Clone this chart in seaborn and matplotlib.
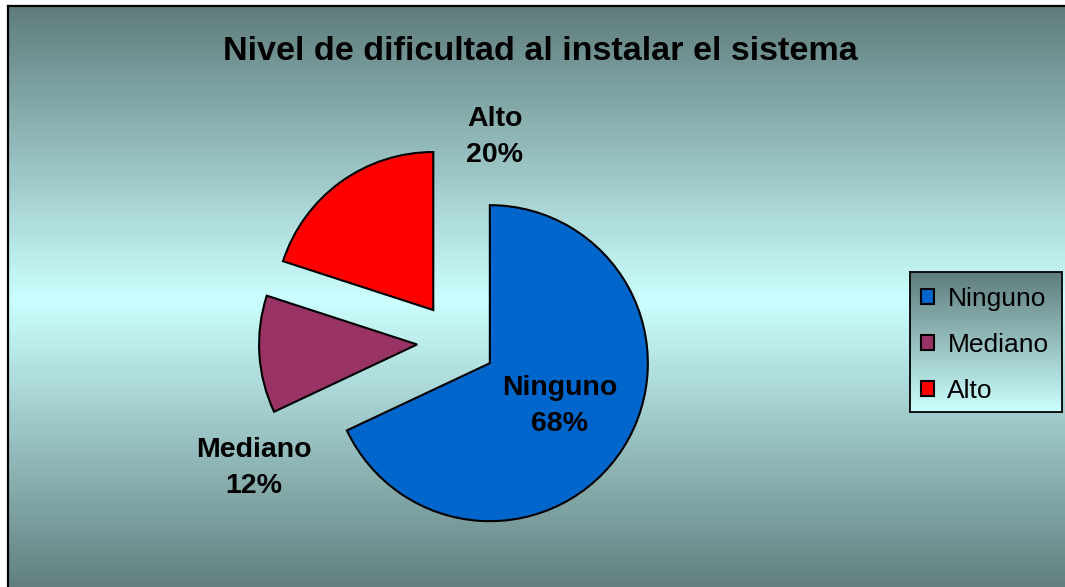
import numpy as np
import matplotlib
matplotlib.use("Agg")
import matplotlib.pyplot as plt
import seaborn as sns

# Chart data
categories = ["Ninguno", "Mediano", "Alto"]
percentages = [68, 12, 20]
slice_colors = ["#0066CC", "#993366", "#FF0000"]
chart_title = "Nivel de dificultad al instalar el sistema"

sns.set_theme(style="white")
plt.rcParams["font.family"] = ["Liberation Sans", "DejaVu Sans"]
plt.rcParams["text.color"] = "black"
palette = sns.color_palette(slice_colors)

W, H = 1065, 587
fig = plt.figure(figsize=(W / 100, H / 100), dpi=100, facecolor="white")


def px_box(left, top, right, bottom):
    """Axes rectangle from pixel edges measured from the top-left corner."""
    return [left / W, 1 - bottom / H, (right - left) / W, (bottom - top) / H]


dark = np.array([95, 124, 124]) / 255
light = np.array([204, 255, 255]) / 255

# Background panel: dark at top and bottom, pale cyan in the middle
bg_top, bg_bottom = 6, H + 20
bg = fig.add_axes(px_box(8, bg_top, W + 20, bg_bottom), zorder=0)
rows = np.linspace(bg_top, bg_bottom, 600)
t = np.clip(np.abs(rows - 300) / 295, 0, 1)[:, None, None]
bg.imshow(light + (dark - light) * t, aspect="auto", extent=[0, 1, 0, 1],
          interpolation="bilinear")
bg.set_xticks([])
bg.set_yticks([])
for side in ("right", "bottom"):
    bg.spines[side].set_visible(False)
for side in ("top", "left"):
    bg.spines[side].set_color("black")
    bg.spines[side].set_linewidth(1.6)

# Pie
cx, cy, r = 456.5, 342, 158
ax = fig.add_axes(px_box(cx - 1.5 * r, cy - 1.5 * r, cx + 1.5 * r, cy + 1.5 * r), zorder=1)
ax.patch.set_alpha(0)
wedges, _ = ax.pie(percentages, colors=palette, startangle=90, counterclock=False,
                   explode=[0.25] * len(percentages), radius=1,
                   wedgeprops=dict(edgecolor="black", linewidth=1.5))
ax.set_xlim(-1.5, 1.5)
ax.set_ylim(-1.5, 1.5)
ax.set_aspect("equal")
ax.set_axis_off()

label_pos = {"Ninguno": (0.655, -0.405), "Mediano": (-1.285, -0.80), "Alto": (0.241, 1.30)}
for name, pct in zip(categories, percentages):
    x, y = label_pos[name]
    ax.text(x, y, f"{name}\n{pct}%", ha="center", va="center", fontsize=20.5,
            fontweight="bold", linespacing=1.5, color="black")

# Title
fig.text(540 / W, 1 - 52 / H, chart_title, ha="center", va="center",
         fontsize=24.6, fontweight="bold", color="black")

# Legend box with its own vertical shading
lg = fig.add_axes(px_box(910, 272, 1062, 412), zorder=2)
lrows = np.linspace(0, 1, 200)[:, None, None]
lg.imshow(dark + (light - dark) * lrows, aspect="auto", extent=[0, 1, 0, 1],
          interpolation="bilinear")
lg.set_xticks([])
lg.set_yticks([])
for s in lg.spines.values():
    s.set_color("black")
    s.set_linewidth(1.3)

fig.legend(handles=wedges, labels=categories, loc="center left",
           bbox_to_anchor=(921 / W, 1 - 345 / H), frameon=False, fontsize=19,
           labelcolor="black", handlelength=0.5, handleheight=0.5,
           handletextpad=0.5, labelspacing=0.83, borderpad=0, borderaxespad=0)

fig.savefig("out.png", dpi=100, facecolor="white")
